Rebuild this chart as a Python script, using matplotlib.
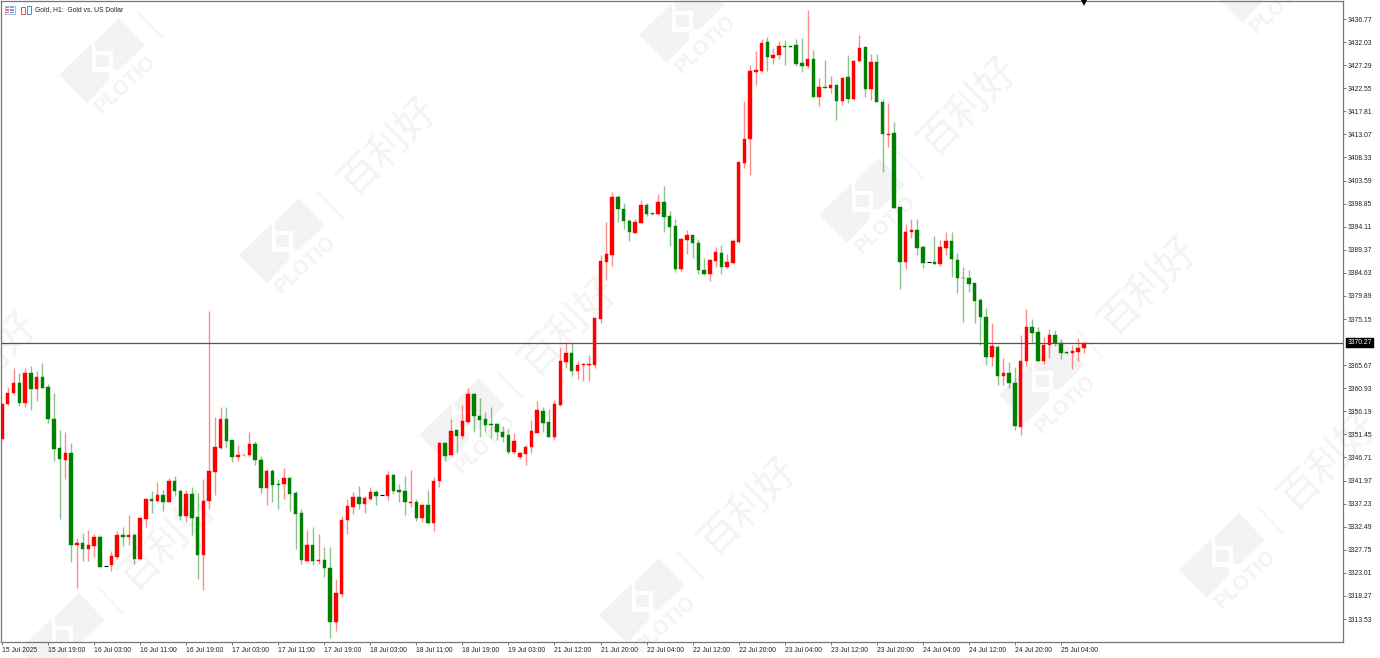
import numpy as np
import matplotlib
matplotlib.use('Agg')
import matplotlib.pyplot as plt
from matplotlib.patches import Polygon, Rectangle
from matplotlib.transforms import Affine2D

# precios (velas H1), 10 por fila
opens = [3350.57,3357.69,3359.88,3361.93,3357.96,3364.12,3360.77,3363.23,3361.18,3354.61,
3348.72,3346.25,3347.69,3328.66,3329.07,3327.90,3328.52,3330.30,3324.34,3324.55,
3326.26,3330.85,3330.37,3330.71,3325.85,3334.13,3338.10,3337.83,3339.00,3337.56,
3341.80,3339.89,3334.68,3339.13,3334.41,3326.60,3337.76,3343.72,3348.65,3354.61,
3350.22,3346.80,3347.15,3347.15,3349.48,3346.19,3340.51,3343.86,3341.26,3341.26,
3342.56,3339.41,3335.24,3325.44,3328.66,3325.44,3325.65,3324.08,3312.85,3318.73,
3333.87,3336.47,3338.66,3337.15,3338.18,3339.62,3338.93,3338.86,3343.18,3340.03,
3339.76,3337.36,3337.63,3334.28,3336.95,3333.18,3341.88,3349.75,3347.15,3352.35,
3351.19,3354.06,3359.68,3355.23,3354.54,3353.58,3353.52,3352.01,3351.33,3347.76,
3346.74,3347.42,3348.93,3351.80,3356.25,3353.93,3350.91,3357.49,3366.32,3368.10,
3364.47,3365.70,3365.77,3365.70,3375.15,3386.92,3388.36,3400.14,3397.81,3395.27,
3392.88,3394.93,3398.56,3396.85,3396.64,3399.11,3396.30,3394.25,3385.48,3391.37,
3392.33,3390.82,3385.21,3384.32,3387.13,3388.77,3385.82,3386.65,3390.96,3407.26,
3412.05,3425.88,3426.09,3431.97,3428.82,3429.37,3431.22,3431.22,3431.36,3427.66,
3427.04,3428.55,3420.81,3422.73,3422.66,3423.28,3419.99,3424.85,3420.27,3428.14,
3430.95,3422.39,3427.93,3419.72,3413.01,3413.28,3398.08,3386.92,3393.01,3393.36,
3389.86,3386.78,3386.85,3386.44,3389.73,3391.17,3387.33,3383.64,3383.57,3382.48,
3379.05,3375.63,3367.41,3369.40,3363.44,3364.06,3362.00,3353.03,3366.52,3373.58,
3372.41,3366.59,3369.74,3371.80,3370.29,3368.30,3368.17,3368.37,3369.19]

closes = [3357.69,3359.88,3361.93,3357.96,3364.12,3360.77,3363.23,3361.04,3354.54,3348.51,
3346.46,3347.69,3328.66,3329.07,3327.90,3328.66,3330.30,3324.27,3324.34,3326.40,
3330.85,3330.37,3330.71,3325.85,3334.27,3338.10,3337.83,3339.00,3337.56,3341.94,
3339.82,3334.68,3339.13,3334.27,3326.60,3337.76,3343.86,3348.85,3354.61,3350.16,
3346.80,3347.21,3347.29,3349.48,3346.26,3340.51,3343.86,3341.12,3341.06,3342.49,
3339.21,3335.03,3325.58,3328.66,3325.38,3325.65,3323.94,3312.85,3318.87,3333.93,
3336.74,3338.66,3337.15,3338.39,3339.62,3338.80,3338.93,3343.11,3339.82,3339.62,
3337.56,3337.63,3334.28,3336.95,3333.18,3341.95,3349.61,3347.01,3352.15,3351.19,
3354.20,3359.82,3355.16,3354.34,3353.38,3353.38,3351.87,3350.98,3347.76,3350.09,
3347.56,3348.86,3352.15,3356.39,3353.79,3350.91,3357.69,3366.46,3368.10,3364.40,
3365.70,3365.91,3365.84,3375.36,3387.00,3388.50,3400.27,3397.67,3395.27,3392.95,
3395.14,3398.56,3396.64,3396.64,3399.11,3396.16,3394.11,3385.48,3391.51,3392.33,
3390.75,3385.14,3384.32,3387.26,3388.84,3385.82,3386.78,3391.17,3407.39,3412.12,
3426.09,3426.36,3431.84,3428.89,3429.44,3431.22,3431.08,3431.08,3427.59,3427.11,
3428.55,3420.74,3422.80,3422.59,3423.21,3419.99,3424.72,3420.27,3428.14,3430.74,
3422.39,3427.93,3419.72,3413.08,3413.15,3398.01,3386.92,3393.08,3393.42,3389.73,
3386.71,3386.78,3386.51,3389.86,3391.17,3387.40,3383.50,3383.50,3382.34,3378.92,
3375.56,3367.41,3369.60,3363.44,3364.06,3361.94,3353.24,3366.59,3373.58,3372.27,
3366.59,3369.81,3371.80,3370.15,3368.10,3368.10,3368.58,3369.26,3370.29]

highs = [3357.69,3361.11,3365.01,3363.99,3365.01,3365.49,3364.47,3366.04,3361.73,3359.95,
3352.35,3351.87,3349.61,3330.09,3331.12,3331.81,3330.98,3330.85,3324.34,3327.42,
3331.53,3332.49,3334.89,3331.26,3334.54,3338.38,3339.75,3341.73,3340.02,3342.49,
3342.90,3340.23,3340.02,3340.57,3339.34,3342.21,3376.79,3354.95,3357.07,3357.14,
3350.36,3349.20,3347.49,3351.94,3350.09,3347.08,3344.27,3344.27,3342.29,3344.62,
3342.77,3339.76,3336.06,3331.88,3332.36,3330.99,3328.25,3328.32,3321.68,3334.76,
3338.18,3339.69,3340.85,3338.80,3340.58,3340.03,3338.93,3343.93,3343.32,3341.33,
3342.84,3344.07,3338.18,3337.09,3340.03,3342.63,3349.96,3349.96,3354.61,3352.63,
3357.49,3360.98,3359.88,3358.93,3356.12,3357.14,3353.72,3353.17,3352.56,3351.67,
3347.83,3349.27,3354.34,3358.31,3357.14,3356.67,3358.45,3369.47,3370.50,3370.29,
3366.59,3366.18,3367.76,3375.36,3388.30,3395.00,3401.23,3400.61,3398.90,3395.62,
3395.62,3399.59,3398.90,3396.92,3400.82,3402.46,3397.26,3395.62,3391.71,3393.36,
3392.47,3391.51,3387.74,3387.40,3389.86,3390.41,3388.50,3391.51,3407.50,3419.86,
3427.32,3430.19,3432.59,3433.14,3430.74,3432.18,3432.45,3431.22,3432.59,3432.80,
3438.62,3430.33,3424.72,3428.41,3425.06,3423.28,3424.92,3429.44,3428.35,3433.48,
3431.08,3429.51,3429.51,3420.33,3419.51,3415.54,3398.08,3394.59,3395.75,3395.62,
3390.28,3386.78,3392.19,3391.30,3392.95,3393.08,3388.63,3385.90,3385.22,3382.61,
3379.40,3377.34,3374.26,3369.81,3367.07,3366.25,3365.22,3371.86,3377.14,3375.08,
3373.58,3371.38,3373.10,3372.89,3370.97,3368.37,3369.74,3371.18,3370.43]

lows = [3350.57,3357.41,3359.74,3357.28,3357.14,3356.45,3358.37,3360.91,3353.85,3346.05,
3334.13,3342.21,3325.30,3319.89,3325.51,3325.51,3326.19,3324.14,3324.34,3323.45,
3325.92,3328.52,3328.66,3324.82,3325.64,3332.35,3335.23,3337.56,3335.71,3337.49,
3338.86,3333.86,3333.52,3330.71,3321.81,3319.48,3336.12,3339.00,3348.38,3348.72,
3345.77,3345.91,3347.01,3347.01,3345.10,3339.48,3336.95,3337.56,3336.06,3338.11,
3335.78,3327.98,3324.90,3325.24,3324.55,3324.83,3322.23,3309.56,3311.13,3317.98,
3330.99,3335.10,3336.06,3335.37,3338.04,3337.02,3338.93,3338.04,3339.21,3337.63,
3334.96,3336.61,3333.73,3333.46,3333.05,3331.68,3340.58,3346.05,3347.01,3347.56,
3350.50,3353.86,3352.01,3350.98,3351.94,3350.78,3350.30,3349.89,3347.42,3347.42,
3346.46,3345.23,3347.56,3351.67,3351.94,3350.85,3350.37,3357.35,3365.09,3363.51,
3362.76,3362.49,3362.49,3365.02,3374.26,3383.16,3386.03,3395.14,3393.56,3391.17,
3392.74,3394.79,3396.37,3396.57,3396.51,3392.95,3390.14,3384.80,3384.94,3388.50,
3387.74,3384.39,3384.11,3383.02,3385.89,3384.39,3385.55,3386.44,3390.80,3406.09,
3404.72,3423.28,3425.88,3426.09,3427.59,3428.55,3427.39,3431.08,3427.11,3425.95,
3426.77,3420.68,3418.83,3422.52,3421.64,3416.02,3419.17,3419.58,3420.13,3427.93,
3420.81,3420.13,3419.65,3405.34,3410.41,3398.01,3381.31,3385.48,3391.78,3388.22,
3385.69,3386.78,3386.44,3386.10,3388.29,3383.84,3380.42,3374.53,3380.70,3374.26,
3369.81,3365.70,3365.50,3361.59,3361.59,3360.98,3352.35,3351.32,3365.50,3370.15,
3366.52,3365.84,3367.07,3369.67,3367.00,3368.05,3364.88,3366.52,3368.10]

price_ticks = [3436.77,3432.03,3427.29,3422.55,3417.81,3413.07,3408.33,3403.59,3398.85,
3394.11,3389.37,3384.63,3379.89,3375.15,3365.67,3360.93,3356.19,3351.45,3346.71,3341.97,
3337.23,3332.49,3327.75,3323.01,3318.27,3313.53]

time_labels = ['15 Jul 2025','15 Jul 19:00','16 Jul 03:00','16 Jul 11:00','16 Jul 19:00',
'17 Jul 03:00','17 Jul 11:00','17 Jul 19:00','18 Jul 03:00','18 Jul 11:00','18 Jul 19:00',
'19 Jul 03:00','21 Jul 12:00','21 Jul 20:00','22 Jul 04:00','22 Jul 12:00','22 Jul 20:00',
'23 Jul 04:00','23 Jul 12:00','23 Jul 20:00','24 Jul 04:00','24 Jul 12:00','24 Jul 20:00',
'25 Jul 04:00']

last_price = 3370.27

# marcas de agua: centro del logo en pixeles de la imagen
wm_centers = [(110,70),(290,250),(470,430),(650,610),(690,30),(870,210),(1050,390),
(1230,565),(-110,465),(70,645),(1265,-10)]
WM = '#f3f3f3'
FONT = 'Liberation Sans'

fig = plt.figure(figsize=(13.8,6.58), dpi=100, facecolor='white')
# pixeles con origen arriba a la izquierda
px = Affine2D().scale(1,-1).translate(0,658)

# las marcas de agua van detras de los ejes
logo_top = [(-15,-28),(9,-52),(35,-25),(10,-1),(3,-1),(3,-19),(-15,-19)]
logo_low = [(-51,5),(-18,-27),(-18,2),(-1,2),(-1,10),(-23,33)]
W, H = 1380, 658
for cx,cy in wm_centers:
    for shape in (logo_top, logo_low):
        fig.add_artist(Polygon([(cx+a,cy+b) for a,b in shape], closed=True, fc=WM, ec='none', transform=px, zorder=-5))
    fig.add_artist(Rectangle((cx-14,cy-15), 13, 12, fc=WM, ec='none', transform=px, zorder=-5))
    fig.add_artist(plt.Line2D([cx+28,cx+53],[cy-58,cy-32], color=WM, lw=1.2, transform=px, zorder=-5))
    # se omiten los textos que caerian del todo fuera de la imagen
    if 0 < cx+15 < W and 0 < cy+14 < H:
        fig.text((cx+15)/W, 1-(cy+14)/H, 'PLOTIO', color=WM, fontsize=14.5, fontweight='bold', family=FONT,
                 rotation=43, rotation_mode='anchor', ha='center', va='center', zorder=-5)
    if -30 < cx+99 < W+30 and -30 < cy-104 < H+30:
        fig.text((cx+99)/W, 1-(cy-104)/H, '百利好', color=WM, fontsize=29, family='Noto Sans CJK SC',
                 rotation=45, rotation_mode='anchor', ha='center', va='center', zorder=-5)

ax = fig.add_axes([1/1380, 1-642/658, 1342/1380, 641/658])
ax.patch.set_alpha(0)

x = np.arange(len(opens))
o = np.array(opens); c = np.array(closes); h = np.array(highs); l = np.array(lows)
up = c > o
down = c < o
flat = c == o

ax.vlines(x[up], l[up], h[up], color='#ff0000', lw=1.0, alpha=0.45, zorder=2)
ax.vlines(x[down], l[down], h[down], color='#008000', lw=1.0, alpha=0.45, zorder=2)
ax.bar(x[up], (c-o)[up], bottom=o[up], width=0.6, color='#ff0000', ec='#ff0000', lw=0.3, zorder=3)
ax.bar(x[down], (c-o)[down], bottom=o[down], width=0.6, color='#008000', ec='#008000', lw=0.3, zorder=3)
ax.hlines(c[flat], x[flat]-0.35, x[flat]+0.35, color='black', lw=0.8, zorder=3)

ax.axhline(last_price, color='#555555', lw=0.9, zorder=4)
ax.plot([188], [0.9965], marker='v', ms=4.5, mew=0, color='black', transform=ax.get_xaxis_transform(), clip_on=False, zorder=6)

ax.set_xlim((1-2)/5.755, (1343-2)/5.755)
ax.set_ylim(3436.77-(642-19)*0.2054, 3436.77+(19-1)*0.2054)

ax.yaxis.tick_right()
ax.set_yticks(price_ticks)
ax.set_yticklabels(['%.2f' % p for p in price_ticks])
ax.set_xticks(np.arange(len(time_labels))*8)
ax.set_xticklabels(time_labels, ha='left')
ax.tick_params(axis='y', length=2.2, width=0.6, color='#666666', labelsize=4.9, pad=1, labelcolor='#222222')
ax.tick_params(axis='x', length=2.2, width=0.6, color='#666666', labelsize=4.9, pad=1.5, labelcolor='#222222')
for t in ax.get_xticklabels()+ax.get_yticklabels():
    t.set_family(FONT)
for s in ax.spines.values():
    s.set_color('#777777')
    s.set_linewidth(0.9)

# etiqueta del ultimo precio
ax.annotate('%.2f' % last_price, xy=(1, last_price), xycoords=ax.get_yaxis_transform(),
            xytext=(3.2,0), textcoords='offset points', va='center', ha='left', fontsize=4.9,
            family=FONT, color='white', annotation_clip=False,
            bbox=dict(boxstyle='square,pad=0.25', fc='black', ec='black', lw=0.3), zorder=7)

# iconos y titulo de arriba a la izquierda
for i in range(3):
    for j in range(2):
        fig.add_artist(Rectangle((6+j*4.2, 6.8+i*2.4), 3.4, 1.7, fc='#e8736a' if j==0 else '#6f9fd8', ec='none', transform=px))
fig.add_artist(Rectangle((5,6), 10, 8, fc='none', ec='#6f9fd8', lw=0.5, transform=px))
fig.add_artist(Rectangle((21,7), 4, 7, fc='none', ec='#e8534a', lw=0.7, transform=px))
fig.add_artist(Rectangle((27,6), 4, 8, fc='none', ec='#3a8fd8', lw=0.7, transform=px))
fig.text(35/1380, 1-9.8/658, 'Gold, H1:  Gold vs. US Dollar', fontsize=4.9, family=FONT, color='#222222', va='center')

fig.savefig('out.png', dpi=100)
